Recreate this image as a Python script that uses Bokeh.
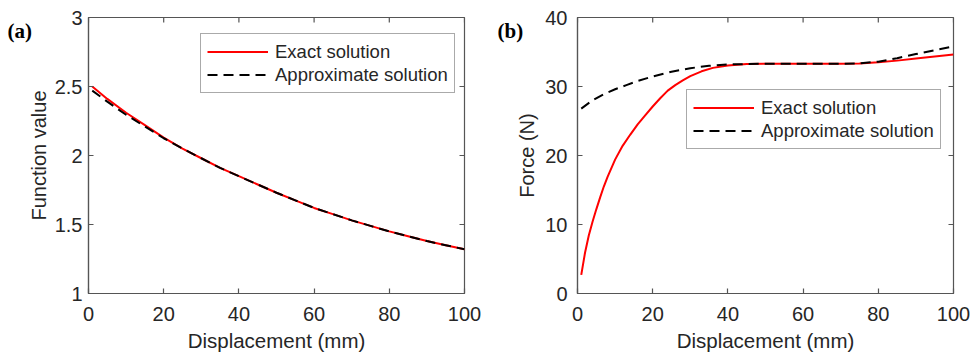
from bokeh.plotting import figure
from bokeh.layouts import row
from bokeh.models import Range1d, LinearAxis, FixedTicker, Legend, LegendItem, Label
from bokeh.embed import file_html
from bokeh.resources import INLINE

# ---------------- data ----------------
# panel (a)
xa_exact = [1, 5, 10, 15, 20, 25, 30, 35, 40, 45, 50, 55, 60, 65, 70, 75, 80, 85, 90, 95, 100]
ya_exact = [2.50, 2.41, 2.31, 2.22, 2.13, 2.05, 1.98, 1.91, 1.85, 1.79, 1.73, 1.675, 1.62, 1.575, 1.53, 1.49, 1.45, 1.415, 1.38, 1.35, 1.32]
xa_approx = [1, 5, 10, 15, 20, 25, 30, 35, 40, 45, 50, 55, 60, 65, 70, 75, 80, 85, 90, 95, 100]
ya_approx = [2.47, 2.39, 2.295, 2.21, 2.125, 2.05, 1.98, 1.91, 1.85, 1.79, 1.73, 1.675, 1.62, 1.575, 1.53, 1.49, 1.45, 1.415, 1.38, 1.35, 1.32]

# panel (b)
xb_exact = [1, 2, 3, 4, 5, 6, 7, 8, 10, 12, 14, 16, 18, 20, 22, 24, 26, 28, 30, 33, 36, 40, 45, 50, 60, 70, 75, 80, 85, 90, 95, 100]
yb_exact = [2.7, 5.9, 8.4, 10.4, 12.2, 13.9, 15.5, 16.9, 19.4, 21.4, 23.0, 24.5, 25.8, 27.1, 28.3, 29.4, 30.2, 30.9, 31.5, 32.2, 32.7, 33.05, 33.25, 33.3, 33.3, 33.3, 33.35, 33.5, 33.75, 34.05, 34.35, 34.65]
xb_approx = [1, 4, 7, 10, 13, 16, 20, 25, 30, 35, 40, 50, 60, 70, 75, 80, 85, 90, 95, 100]
yb_approx = [26.8, 28.0, 28.9, 29.6, 30.2, 30.8, 31.45, 32.15, 32.65, 33.0, 33.2, 33.3, 33.3, 33.3, 33.35, 33.6, 34.1, 34.7, 35.25, 35.8]

x_ticks = [0, 20, 40, 60, 80, 100]
ya_ticks = [1, 1.5, 2, 2.5, 3]
ya_tick_labels = ["1", "1.5", "2", "2.5", "3"]
yb_ticks = [0, 10, 20, 30, 40]
yb_tick_labels = ["0", "10", "20", "30", "40"]

series_names = ["Exact solution", "Approximate solution"]
panel_tags = ["(a)", "(b)"]
x_label = "Displacement (mm)"
y_labels = ["Function value", "Force (N)"]

TEXT = "#262626"
AXC = "#555555"
FONT = "Liberation Sans"
H = 356
TOP, BOTTOM = 17, 63
TICK = 5


def make_panel(width, left, right, xe, ye, xp, yp, yr, yticks, ylabels, ylab, tag,
               leg_xy, ystand, ylabstand, tag_x):
    p = figure(width=width, height=H, output_backend="svg", toolbar_location=None,
               x_range=Range1d(0, 100), y_range=Range1d(*yr),
               min_border_left=left, min_border_right=right,
               min_border_top=TOP, min_border_bottom=BOTTOM,
               x_axis_type=None, y_axis_type=None)
    p.grid.visible = False
    p.outline_line_color = AXC
    p.outline_line_width = 1.2
    p.background_fill_color = "white"
    p.border_fill_color = "white"

    overrides = {t: l for t, l in zip(yticks, ylabels)}
    xover = {t: str(t) for t in x_ticks}

    xb = LinearAxis(ticker=FixedTicker(ticks=x_ticks), major_label_overrides=xover,
                    axis_label=x_label)
    yl = LinearAxis(ticker=FixedTicker(ticks=yticks), major_label_overrides=overrides,
                    axis_label=ylab)
    for ax in (xb, yl):
        ax.axis_line_color = AXC
        ax.axis_line_width = 1.2
        ax.major_tick_line_color = AXC
        ax.major_tick_line_width = 1.2
        ax.major_tick_in = TICK
        ax.major_tick_out = 0
        ax.minor_tick_line_color = None
        ax.major_label_text_font = FONT
        ax.major_label_text_font_size = "20px"
        ax.major_label_text_color = TEXT
        ax.axis_label_text_font = FONT
        ax.axis_label_text_font_style = "normal"
        ax.axis_label_text_color = TEXT
    xb.axis_label_text_font_size = "20.5px"
    yl.axis_label_text_font_size = "20px"
    xb.major_label_standoff = 13
    xb.axis_label_standoff = 5
    yl.major_label_standoff = ystand
    yl.axis_label_standoff = ylabstand
    p.add_layout(xb, "below")
    p.add_layout(yl, "left")

    # inward ticks on the top and right edges of the box (MATLAB style)
    fw = width - left - right
    fh = H - TOP - BOTTOM
    dx = TICK * 100.0 / fw
    dy = TICK * (yr[1] - yr[0]) / fh
    p.segment(x0=x_ticks, y0=[yr[1]] * len(x_ticks), x1=x_ticks, y1=[yr[1] - dy] * len(x_ticks),
              line_color=AXC, line_width=1.2)
    p.segment(x0=[100] * len(yticks), y0=yticks, x1=[100 - dx] * len(yticks), y1=yticks,
              line_color=AXC, line_width=1.2)

    r1 = p.line(xe, ye, line_color="#ff0000", line_width=2)
    r2 = p.line(xp, yp, line_color="black", line_width=2, line_dash="10 6")

    leg = Legend(items=[LegendItem(label=series_names[0], renderers=[r1]),
                        LegendItem(label=series_names[1], renderers=[r2])],
                 location=leg_xy, orientation="vertical")
    leg.label_text_font = FONT
    leg.label_text_font_size = "18.5px"
    leg.label_text_color = TEXT
    leg.glyph_width = 61
    leg.glyph_height = 23
    leg.label_height = 23
    leg.label_standoff = 7
    leg.padding = 6
    leg.spacing = 0
    leg.margin = 0
    leg.border_line_color = AXC
    leg.border_line_width = 1.2
    leg.background_fill_color = "white"
    leg.background_fill_alpha = 1
    p.add_layout(leg, "center")

    # panel tag, placed in the left side panel so it is not clipped to the frame
    lab = Label(x=tag_x, y=fh - 32.5 + TOP + 2.5, x_units="screen", y_units="screen",
                text=tag, text_font="Liberation Serif", text_font_style="bold",
                text_font_size="21px", text_color="black", text_baseline="middle",
                text_align="left")
    p.add_layout(lab, "left")
    return p


p1 = make_panel(485, 88, 21, xa_exact, ya_exact, xa_approx, ya_approx, (1, 3),
                ya_ticks, ya_tick_labels, y_labels[0], panel_tags[0], (112, 200), 6, 2, 7)
p2 = make_panel(486, 92, 18, xb_exact, yb_exact, xb_approx, yb_approx, (0, 40),
                yb_ticks, yb_tick_labels, y_labels[1], panel_tags[1], (109, 144), 10, 4, 10)

layout = row(p1, p2)
open("out.html", "w").write(file_html(layout, INLINE))
